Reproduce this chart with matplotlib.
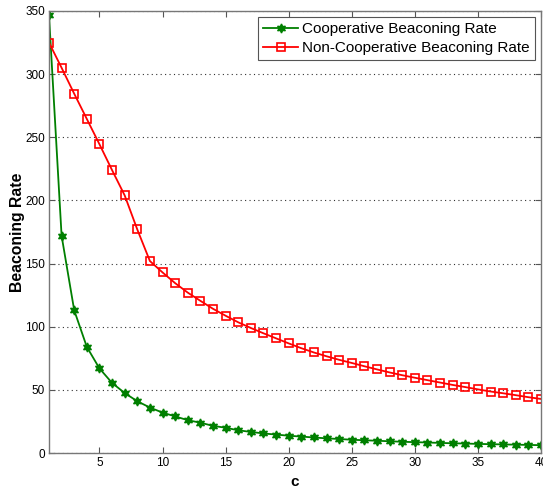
import numpy as np
import matplotlib
matplotlib.use("Agg")
import matplotlib.pyplot as plt

plt.rcParams['font.family'] = ['Liberation Sans', 'DejaVu Sans']

# beaconing rate against c
c = np.arange(1, 41)
coop_rate = [347, 172, 113, 84, 67, 55.5, 47.5, 41, 36, 32, 29, 26, 24, 21.5, 20,
             18, 16.7, 15.5, 14.6, 13.7, 13, 12.3, 11.6, 11.1, 10.5, 10.1, 9.7, 9.3,
             8.9, 8.6, 8.3, 8.0, 7.7, 7.5, 7.2, 7.0, 6.8, 6.6, 6.4, 6.2]
noncoop_rate = [325, 305, 284.5, 264.5, 244.5, 224, 204, 177, 152, 143, 134.5, 127,
                120.5, 114.2, 108.7, 103.5, 99, 94.8, 90.8, 86.8, 83, 79.6, 76.6,
                73.8, 71.3, 68.7, 66.2, 63.8, 61.6, 59.6, 57.7, 55.8, 53.9, 52.2,
                50.4, 48.7, 47.3, 45.8, 44.2, 42.8]

fig = plt.figure(figsize=(5.43, 4.88), dpi=100)
ax = fig.add_axes([0.0902, 0.0717, 0.9061, 0.9058])

star6 = (6, 1, 0)
ax.plot(c, coop_rate, color='#007f00', lw=1.3, marker=star6, ms=6.5,
        mfc='#007f00', mec='#007f00', label='Cooperative Beaconing Rate')
ax.plot(c, noncoop_rate, color='#ff0000', lw=1.3, marker='s', ms=5.5,
        mfc='none', mec='#ff0000', mew=1.2, label='Non-Cooperative Beaconing Rate')

ax.set_xlim(1, 40)
ax.set_ylim(0, 350)
ax.set_xticks(np.arange(5, 41, 5))
ax.set_yticks(np.arange(0, 351, 50))
ax.yaxis.grid(True, linestyle=(0, (1, 3)), color='#333333', lw=0.8)
ax.tick_params(direction='in', top=True, right=True, labelsize=8.5, length=4,
               color='#555555', pad=3)
for s in ax.spines.values():
    s.set_color('#777777')
    s.set_linewidth(1.0)

ax.set_xlabel('c', fontsize=11, fontweight='bold', labelpad=4)
ax.set_ylabel('Beaconing Rate', fontsize=11.3, fontweight='bold', labelpad=0)

leg = ax.legend(loc='upper right', fontsize=11, fancybox=False, framealpha=1,
                edgecolor='#555555', handlelength=2.3, borderaxespad=0.4,
                labelspacing=0.3, borderpad=0.35, handletextpad=0.25)
leg.get_frame().set_linewidth(0.8)

fig.savefig('out.png', dpi=100)
